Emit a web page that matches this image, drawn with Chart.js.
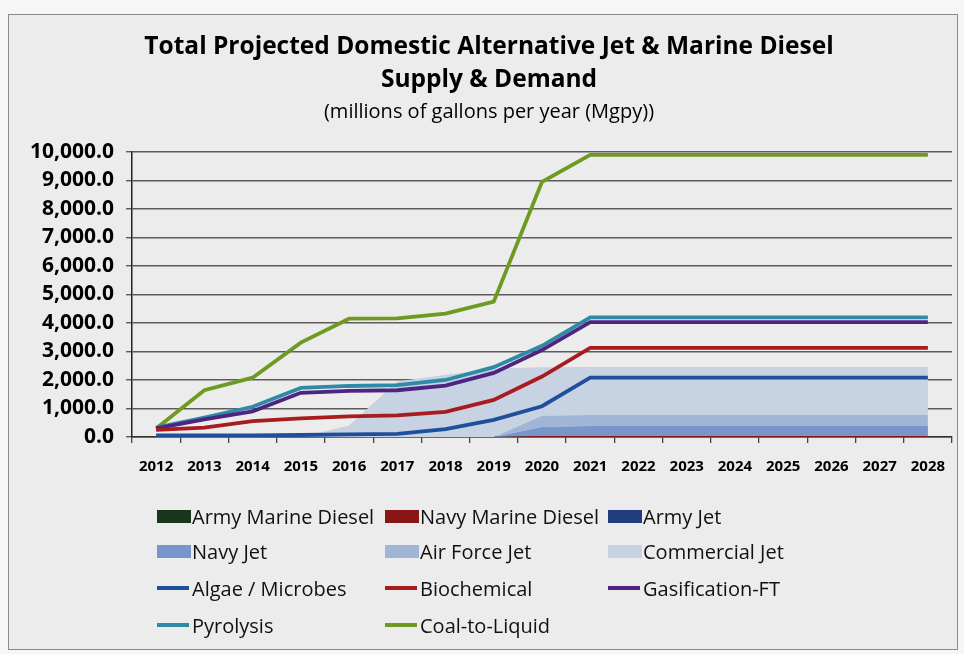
<!DOCTYPE html>
<html>
<head>
<meta charset="utf-8">
<script src="https://cdn.jsdelivr.net/npm/chart.js@4.4.1/dist/chart.umd.min.js"></script>
<style>
  body { margin: 0; background: #f6f6f6; font-family: 'Open Sans', sans-serif; }
  #frame { position: absolute; left: 8px; top: 14px; width: 948px; height: 634px;
           border: 1px solid #8a8a8a; background: #ececec; }
  #chart { position: absolute; left: 0; top: 0; }
  #legend { position: absolute; left: 0; top: 0; }
  .item { position: absolute; height: 30px; display: flex; align-items: center;
          font-size: 20px; color: #111; white-space: nowrap; }
  .box { width: 34px; height: 13px; margin-right: 1px; }
  .line { width: 32px; height: 4px; margin-right: 3px; }
</style>
</head>
<body>
<div id="frame"></div>
<canvas id="chart" width="964" height="654"></canvas>
<div id="legend"></div>
<script>
// categories
const years = ['2012', '2013', '2014', '2015', '2016', '2017', '2018', '2019', '2020',
               '2021', '2022', '2023', '2024', '2025', '2026', '2027', '2028'];

// demand (stacked areas), Mgpy
const armyMarineDiesel = [0, 0, 0, 0, 0, 0, 0, 0, 0, 0, 0, 0, 0, 0, 0, 0, 0];
const navyMarineDiesel = [0, 0, 0, 0, 0, 0, 0, 0, 35, 35, 35, 35, 35, 35, 35, 35, 35];
const armyJet          = [0, 0, 0, 0, 0, 0, 0, 0, 0, 0, 0, 0, 0, 0, 0, 0, 0];
const navyJet          = [0, 0, 0, 0, 0, 0, 0, 0, 320, 350, 350, 350, 350, 350, 350, 350, 350];
const airForceJet      = [0, 0, 0, 0, 0, 0, 0, 0, 390, 390, 390, 390, 390, 390, 390, 390, 390];
const commercialJet    = [0, 0, 0, 0, 400, 1950, 2180, 2400, 1700, 1680, 1680, 1680, 1680, 1680, 1680, 1680, 1680];

// supply (lines), Mgpy
const algaeMicrobes = [60, 60, 60, 70, 90, 110, 280, 600, 1080, 2080, 2080, 2080, 2080, 2080, 2080, 2080, 2080];
const biochemical   = [250, 330, 560, 650, 720, 760, 880, 1300, 2120, 3130, 3130, 3130, 3130, 3130, 3130, 3130, 3130];
const gasification  = [300, 620, 900, 1550, 1620, 1640, 1800, 2250, 3050, 4030, 4030, 4030, 4030, 4030, 4030, 4030, 4030];
const pyrolysis     = [330, 680, 1060, 1720, 1790, 1820, 2000, 2450, 3200, 4200, 4200, 4200, 4200, 4200, 4200, 4200, 4200];
const coalToLiquid  = [300, 1640, 2080, 3310, 4150, 4160, 4330, 4750, 8950, 9900, 9900, 9900, 9900, 9900, 9900, 9900, 9900];

// y axis ticks
const yTicks = [0, 1000, 2000, 3000, 4000, 5000, 6000, 7000, 8000, 9000, 10000];

const font = "'Open Sans', sans-serif";

function area(label, data, color, fill) {
    return { label, data, backgroundColor: color, borderColor: color, borderWidth: 0,
             pointRadius: 0, fill, yAxisID: 'yStack', order: 1, tension: 0 };
}

function line(label, data, color) {
    return { label, data, borderColor: color, backgroundColor: color, borderWidth: 3.8,
             pointRadius: 0, fill: false, yAxisID: 'y', order: 0, tension: 0 };
}

const chart = new Chart(document.getElementById('chart'), {
    type: 'line',
    data: {
        labels: years,
        datasets: [
            area('Army Marine Diesel', armyMarineDiesel, '#17361b', 'origin'),
            area('Navy Marine Diesel', navyMarineDiesel, '#8a1515', '-1'),
            area('Army Jet', armyJet, '#1f3c7e', '-1'),
            area('Navy Jet', navyJet, '#7896cb', '-1'),
            area('Air Force Jet', airForceJet, '#a1b6d6', '-1'),
            area('Commercial Jet', commercialJet, '#c7d2e2', '-1'),
            line('Algae / Microbes', algaeMicrobes, '#1d4f9c'),
            line('Biochemical', biochemical, '#a81c1f'),
            line('Gasification-FT', gasification, '#4d2580'),
            line('Pyrolysis', pyrolysis, '#2f8aa6'),
            line('Coal-to-Liquid', coalToLiquid, '#6f9a22')
        ]
    },
    options: {
        responsive: false,
        animation: false,
        layout: { padding: { left: 26, right: 12, top: 0, bottom: 0 } },
        plugins: {
            legend: { display: false },
            tooltip: { enabled: false },
            title: {
                display: true,
                text: ['Total Projected Domestic Alternative Jet & Marine Diesel', 'Supply & Demand'],
                color: '#000',
                font: { family: font, size: 24.5, weight: 'bold', lineHeight: 1.35 },
                padding: { top: 30, bottom: 0 }
            },
            subtitle: {
                display: true,
                text: '(millions of gallons per year (Mgpy))',
                color: '#000',
                font: { family: font, size: 20, lineHeight: 1.2 },
                padding: { top: 4, bottom: 27.8 }
            }
        },
        scales: {
            x: {
                offset: true,
                grid: { display: true, drawOnChartArea: false, offset: true, tickLength: 6, color: '#444', lineWidth: 1.3 },
                border: { color: '#333', width: 1.5 },
                ticks: { color: '#000', font: { family: font, size: 15, weight: 'bold' }, padding: 15,
                         maxRotation: 0, autoSkip: false },
                afterFit: s => { s.height = 217; }
            },
            y: {
                min: 0, max: 10000,
                afterBuildTicks: s => { s.ticks = yTicks.map(v => ({ value: v })); },
                ticks: { color: '#000', font: { family: font, size: 21, weight: 'bold' }, padding: 12,
                         callback: v => v.toLocaleString('en-US', { minimumFractionDigits: 1, maximumFractionDigits: 1 }) },
                grid: { color: '#5c5c5c', lineWidth: 1.4, tickLength: 6 },
                border: { color: '#222', width: 1.5 },
                afterFit: s => { s.width = 106; }
            },
            yStack: { display: false, stacked: true, min: 0, max: 10000 }
        }
    }
});

// legend in three fixed columns, four rows
const cols = [157, 385, 608];
const rows = [516, 551, 588, 625];
const legend = document.getElementById('legend');
chart.data.datasets.forEach((ds, i) => {
    const el = document.createElement('div');
    el.className = 'item';
    el.style.left = cols[i % 3] + 'px';
    el.style.top = (rows[Math.floor(i / 3)] - 15) + 'px';
    const sw = document.createElement('span');
    sw.className = ds.yAxisID === 'yStack' ? 'box' : 'line';
    sw.style.background = ds.backgroundColor;
    el.appendChild(sw);
    el.appendChild(document.createTextNode(ds.label));
    legend.appendChild(el);
});
</script>
</body>
</html>
